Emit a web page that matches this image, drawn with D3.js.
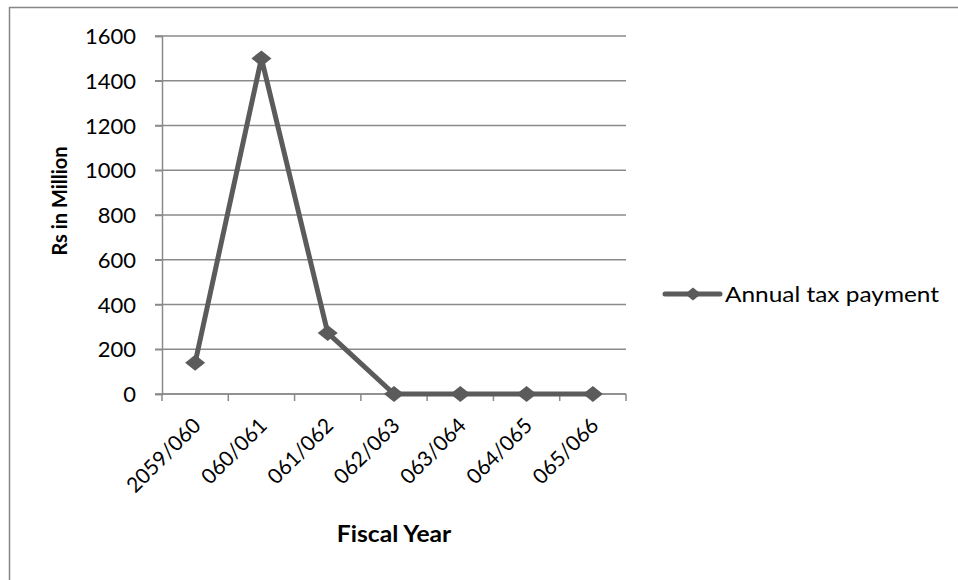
<!DOCTYPE html>
<html>
<head>
<meta charset="utf-8">
<script src="https://cdn.jsdelivr.net/npm/d3@7"></script>
<style>
body { margin: 0; background: #fff; }
svg text { font-family: Lato, "Open Sans", sans-serif; fill: #000; }
</style>
</head>
<body>
<svg width="958" height="580"></svg>
<script>
const years = ["2059/060", "060/061", "061/062", "062/063", "063/064", "064/065", "065/066"]
const taxPayment = [140, 1500, 273, 0, 0, 0, 0]
const yTicks = [0, 200, 400, 600, 800, 1000, 1200, 1400, 1600]
const seriesName = "Annual tax payment"

const svg = d3.select("svg")
const lineColor = "#5b5b5b"
const gridColor = "#8a8a8a"

// chart border (cut off at right and bottom)
svg.append("rect")
    .attr("x", 9.5).attr("y", 7.5)
    .attr("width", 1000).attr("height", 1000)
    .attr("fill", "none")
    .attr("stroke", "#868686")
    .attr("stroke-width", 1.5)

const plotLeft = 162, plotRight = 626, plotTop = 36, plotBottom = 394

const x = d3.scaleBand().domain(years).range([plotLeft, plotRight])
const y = d3.scaleLinear().domain([0, 1600]).range([plotBottom, plotTop])

// gridlines
svg.append("g")
    .selectAll("line")
    .data(yTicks)
    .enter()
    .append("line")
    .attr("x1", plotLeft - 7)
    .attr("x2", plotRight)
    .attr("y1", d => y(d))
    .attr("y2", d => y(d))
    .attr("stroke", gridColor)
    .attr("stroke-width", 1.5)

// y axis
const yAxis = svg.append("g")
    .attr("transform", "translate(" + plotLeft + ",0)")
    .call(d3.axisLeft(y).tickValues(yTicks).tickFormat(d3.format("d")).tickSize(7).tickPadding(19))
yAxis.selectAll(".domain").attr("stroke", gridColor).attr("stroke-width", 1.5)
yAxis.selectAll(".tick line").attr("stroke", gridColor).attr("stroke-width", 1.5)
yAxis.selectAll("text")
    .attr("fill", "#000")
    .style("font-family", "Lato, sans-serif")
    .style("font-size", "22px")
    .attr("dy", "0.35em")

// x axis with ticks at band edges
const xAxis = svg.append("g")
    .attr("transform", "translate(0," + plotBottom + ")")
xAxis.append("line")
    .attr("x1", plotLeft).attr("x2", plotRight)
    .attr("stroke", gridColor).attr("stroke-width", 1.5)
xAxis.selectAll("line.edge")
    .data(d3.range(years.length + 1))
    .enter()
    .append("line")
    .attr("class", "edge")
    .attr("x1", i => plotLeft + i * x.bandwidth())
    .attr("x2", i => plotLeft + i * x.bandwidth())
    .attr("y1", 0).attr("y2", 7)
    .attr("stroke", gridColor).attr("stroke-width", 1.5)
xAxis.selectAll("text")
    .data(years)
    .enter()
    .append("text")
    .attr("transform", d => "translate(" + (x(d) + x.bandwidth() / 2 + 7) + ",33) rotate(-45)")
    .attr("text-anchor", "end")
    .style("font-size", "21px")
    .text(d => d)

// line
const cx = d => x(d) + x.bandwidth() / 2
svg.append("path")
    .datum(taxPayment)
    .attr("fill", "none")
    .attr("stroke", lineColor)
    .attr("stroke-width", 5)
    .attr("stroke-linejoin", "round")
    .attr("d", d3.line().x((d, i) => cx(years[i])).y(d => y(d)))

// diamond marker, a little wider than tall like the original
const wideDiamond = {
    draw(context, size) {
        const w = 10, h = 8
        context.moveTo(0, -h)
        context.lineTo(w, 0)
        context.lineTo(0, h)
        context.lineTo(-w, 0)
        context.closePath()
    }
}
const diamond = d3.symbol().type(wideDiamond)
svg.append("g")
    .selectAll("path")
    .data(taxPayment)
    .enter()
    .append("path")
    .attr("d", diamond)
    .attr("transform", (d, i) => "translate(" + cx(years[i]) + "," + y(d) + ")")
    .attr("fill", lineColor)

// axis titles
svg.append("text")
    .attr("transform", "translate(67,201) rotate(-90)")
    .attr("text-anchor", "middle")
    .style("font-size", "20px")
    .style("font-weight", "bold")
    .text("Rs in Million")

svg.append("text")
    .attr("transform", "translate(394,542) scale(1.12,1)")
    .attr("text-anchor", "middle")
    .style("font-size", "22px")
    .style("font-weight", "bold")
    .text("Fiscal Year")

// legend
const legend = svg.append("g").attr("transform", "translate(665,294)")
legend.append("line")
    .attr("x1", 0).attr("x2", 55)
    .attr("stroke", lineColor).attr("stroke-width", 5)
    .attr("stroke-linecap", "round")
legend.append("path")
    .attr("d", diamond)
    .attr("transform", "translate(28,0) scale(0.8)")
    .attr("fill", lineColor)
legend.append("text")
    .attr("transform", "translate(60,0) scale(1.11,1)")
    .attr("dy", "0.35em")
    .style("font-size", "22px")
    .text(seriesName)
</script>
</body>
</html>
